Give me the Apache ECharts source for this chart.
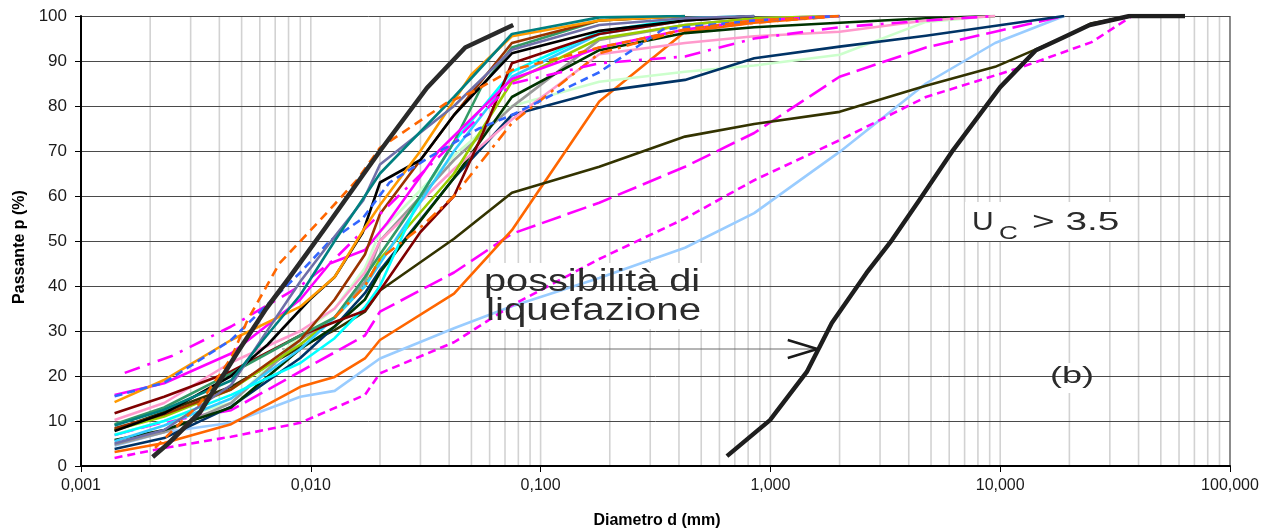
<!DOCTYPE html>
<html>
<head>
<meta charset="utf-8">
<script src="https://cdn.jsdelivr.net/npm/echarts@6/dist/echarts.min.js"></script>
<style>
  html, body { margin: 0; padding: 0; background: #fff; }
  #chart { width: 1277px; height: 531px; }
</style>
</head>
<body>
<div id="chart"></div>
<script>
// Grain-size distribution curves: [diameter (mm), passing (%)]
const fineLimit = [[0.00205,2],[0.0024,5],[0.0033,12],[0.0049,26],[0.0064,35],[0.0081,42],[0.0116,53],[0.020,70],[0.032,84],[0.047,93],[0.076,98]];
const ucLimit = [[0.647,2.2],[0.996,10.2],[1.44,20.9],[1.85,31.8],[2.62,42.9],[3.38,50.2],[4.45,59.1],[6.24,70.2],[10.0,84.2],[14.3,92.4],[18.9,95.3],[24.5,98],[36.6,100],[63.7,100]];

const tealCurve = [[0.0014,9],[0.0023,12.5],[0.0045,19],[0.0062,28],[0.009,38],[0.0127,50],[0.0172,60],[0.020,65],[0.042,82],[0.075,96],[0.18,99.7],[0.425,100]];
const slateCurve = [[0.0014,5],[0.0023,8],[0.0045,18],[0.0062,28.7],[0.009,41],[0.0127,51],[0.0169,59],[0.020,67],[0.042,80],[0.075,92.5],[0.18,98],[0.425,99.5],[0.85,100]];
const blueDashCurve = [[0.0014,15.5],[0.0023,18.5],[0.0045,28],[0.009,43],[0.0121,50],[0.0168,55],[0.022,63],[0.033,68.7],[0.054,75],[0.075,78],[0.118,83],[0.18,87.5],[0.34,97],[0.85,99],[2,100]];
const blackCurve = [[0.0014,7.8],[0.0023,11.7],[0.0045,20],[0.0065,27],[0.0099,37],[0.0127,42],[0.0168,51.8],[0.020,63],[0.030,68],[0.042,78],[0.075,91.7],[0.18,96.7],[0.425,99],[0.85,100]];
const orangeCurve = [[0.0014,14.2],[0.0023,19.1],[0.0045,28],[0.009,35.4],[0.0127,42],[0.0172,53],[0.020,58],[0.030,70],[0.050,87],[0.075,95.5],[0.18,99],[0.425,100]];
const brownCurve = [[0.0014,8.4],[0.0023,11.5],[0.0045,17],[0.009,28],[0.0127,37],[0.0172,47],[0.020,56],[0.030,68],[0.042,78],[0.075,94],[0.18,99],[0.425,100]];
const darkRedCurve = [[0.0014,11.7],[0.0023,15.4],[0.0045,21],[0.009,29],[0.0127,32],[0.0172,34.5],[0.020,39],[0.030,52],[0.042,60],[0.055,73],[0.075,89.5],[0.18,96],[0.425,99],[0.85,100]];
const pinkCurve = [[0.0014,10.2],[0.0023,14],[0.0045,23],[0.009,30],[0.0127,35],[0.0172,43],[0.020,50],[0.042,66],[0.075,77],[0.18,91.5],[0.425,94],[0.85,95.5],[2,96.5],[4.75,99],[9.5,100]];
const seaGreenCurve = [[0.0014,9.3],[0.0023,13],[0.0045,20.6],[0.009,29],[0.0127,33],[0.0172,42],[0.020,47],[0.030,60],[0.042,72],[0.055,84],[0.075,93],[0.18,99],[0.425,100]];
const magentaCurve = [[0.0014,15.8],[0.0023,18.4],[0.0045,25],[0.009,37],[0.0121,45],[0.0172,48],[0.0215,54],[0.036,70],[0.075,86],[0.18,93],[0.425,97],[0.85,99],[2,100]];
const cyanCurve = [[0.0014,6.9],[0.0023,10],[0.0045,15.8],[0.009,22.9],[0.0127,28.4],[0.0172,35.3],[0.020,40],[0.030,60],[0.042,72],[0.075,87.6],[0.18,96.5],[0.425,99.5],[0.85,100]];
const skyCurve = [[0.0014,5.5],[0.0023,9],[0.0045,15],[0.009,26],[0.0127,33],[0.0172,40],[0.020,45],[0.042,70],[0.075,86.5],[0.18,96],[0.425,99],[0.85,100]];
const limeCurve = [[0.0014,8],[0.0023,11],[0.0045,17],[0.009,27],[0.0127,33],[0.0172,40],[0.020,46],[0.042,65],[0.075,85.4],[0.18,95],[0.425,98],[0.85,99.5],[2,100]];
const darkGreenCurve = [[0.0014,5.8],[0.0023,8],[0.0045,13],[0.009,26],[0.0127,31],[0.0172,37],[0.020,43],[0.042,64],[0.075,82],[0.18,92.4],[0.425,96.2],[0.85,97.5],[2,98.5],[4.75,99.5],[9.5,100]];
const grayCurve = [[0.0014,4.7],[0.0023,7.5],[0.0045,14],[0.009,28],[0.0127,33],[0.0172,41],[0.020,50],[0.042,68],[0.075,79.8],[0.18,94.7],[0.425,98],[0.85,99.5],[2,100]];
const paleGreenCurve = [[0.0014,7],[0.0023,10],[0.0045,14],[0.009,29],[0.0127,35],[0.0172,44],[0.020,52],[0.042,69],[0.075,80],[0.18,85.4],[0.425,87.6],[0.85,89],[2,91.4],[4.75,98.7],[9.5,100]];
const navyCurve = [[0.0014,3.8],[0.0023,6.2],[0.0045,13.2],[0.009,24],[0.0127,31],[0.0172,38.4],[0.020,43.5],[0.042,64],[0.075,78],[0.18,83.2],[0.425,85.8],[0.85,90.6],[2,93.2],[4.75,95.6],[19,100]];
const orangeDashDotCurve = [[0.0127,33],[0.0172,40],[0.020,46],[0.030,53],[0.042,60],[0.075,76.2],[0.18,91.7],[0.425,97],[0.85,98.5],[2,100]];
const magentaDashDotCurve = [[0.00155,20.7],[0.0025,24.5],[0.0045,31],[0.009,40],[0.0127,46],[0.020,56],[0.042,72],[0.075,85],[0.18,89.5],[0.425,91],[0.85,95],[2,97.5],[4.75,99],[9.5,100]];
const orangeDashCurve = [[0.0021,4],[0.0026,8.7],[0.0033,14],[0.0045,24],[0.0053,32.4],[0.0073,45],[0.011,54.7],[0.0159,63.6],[0.020,70.7],[0.039,80.7],[0.05,83],[0.075,88],[0.18,93],[0.425,97],[0.85,99],[2,100]];
const oliveCurve = [[0.0014,8],[0.0023,12],[0.0045,17.6],[0.009,26.4],[0.0127,30.2],[0.0172,34.3],[0.020,39],[0.042,50.5],[0.075,60.7],[0.18,66.5],[0.425,73.2],[0.85,76],[2,78.7],[4.75,84.5],[9.5,88.7],[19,95.3],[25,98.4],[37.5,100]];
const orangeSolidCurve = [[0.0014,3.1],[0.0023,5.1],[0.0045,9.3],[0.009,17.6],[0.0127,19.8],[0.0172,23.9],[0.020,28],[0.042,38.3],[0.075,52.4],[0.18,81],[0.425,96.5],[0.85,98.5],[2,100]];
const lightBlueCurve = [[0.0014,4.5],[0.0023,7.5],[0.0045,9.6],[0.009,15.4],[0.0127,16.7],[0.020,23.9],[0.042,30.6],[0.075,35.5],[0.18,41.8],[0.425,48.5],[0.85,56.2],[2,69.8],[4.75,85],[9.5,94],[19,100]];
const magentaShortDashCurve = [[0.0014,1.8],[0.0023,4],[0.0045,6.5],[0.009,9.6],[0.0172,15.8],[0.020,20.6],[0.042,27.5],[0.075,35.7],[0.18,46],[0.425,55],[0.85,63.5],[2,72.4],[4.75,82],[12.5,88.7],[25,94.2],[37.5,100]];
const magentaLongDashCurve = [[0.0014,6.9],[0.0023,9.8],[0.0045,12.4],[0.009,21],[0.0172,29],[0.020,34.3],[0.042,43],[0.075,51.6],[0.18,58.5],[0.425,66.5],[0.85,74],[2,86.5],[4.75,93],[9.5,96.5],[19,100]];

// Pointer from the annotation to the Uc curve
const pointerShaft = [[0.0075,26],[1.6,26]];
const pointerHead = [[1.19,28],[1.6,26],[1.19,24]];

// Axis settings
const xMin = 0.001, xMax = 100;
const yTicks = [0, 10, 20, 30, 40, 50, 60, 70, 80, 90, 100];

// Vertical log grid positions (1..9 x each decade)
const gridDiameters = [];
for (let e = -3; e <= 1; e++) {
  for (let m = 1; m <= 9; m++) gridDiameters.push(+(m * Math.pow(10, e)).toPrecision(3));
}
gridDiameters.push(100);

// White panels behind the annotations (pixel rectangles: x, y, width, height)
const annotationPanels = [
  [480, 263, 228, 66],
  [965, 202, 165, 40],
  [1045, 363, 58, 30]
];

const FONT = 'Liberation Sans, Arial, sans-serif';

function curve(name, data, color, width, dash, extra) {
  return Object.assign({
    name: name, type: 'line', data: data, symbol: 'none', z: 5,
    lineStyle: { color: color, width: width, type: dash || 'solid', cap: 'butt', join: 'round' },
    silent: true
  }, extra || {});
}

const series = [
  {
    type: 'custom', z: 1, silent: true,
    data: gridDiameters.map(d => [d, 0]),
    encode: { x: 0, y: 1 },
    renderItem: function (params, api) {
      const d = api.value(0);
      const top = api.coord([d, 100]);
      const bot = api.coord([d, 0]);
      const border = d === xMax;
      return {
        type: 'line',
        shape: { x1: top[0], y1: top[1], x2: bot[0], y2: bot[1] },
        style: { stroke: border ? '#8c8c8c' : '#d2d2d2', lineWidth: border ? 2 : 1.6 }
      };
    }
  },
  {
    type: 'custom', z: 2, silent: true, coordinateSystem: 'none',
    data: annotationPanels,
    renderItem: function (params, api) {
      return {
        type: 'rect',
        shape: { x: api.value(0), y: api.value(1), width: api.value(2), height: api.value(3) },
        style: { fill: '#ffffff' }
      };
    }
  },
  curve('pointer', pointerShaft, '#6a6a6a', 1),
  curve('lightBlue', lightBlueCurve, '#99ccff', 2.6),
  curve('magentaShort', magentaShortDashCurve, '#ff00ff', 2.6, [8, 5]),
  curve('magentaLong', magentaLongDashCurve, '#ff00ff', 2.6, [20, 7]),
  curve('orangeSolid', orangeSolidCurve, '#ff6600', 2.6),
  curve('olive', oliveCurve, '#333300', 2.6),
  curve('paleGreen', paleGreenCurve, '#ccffcc', 2.6),
  curve('navy', navyCurve, '#003366', 2.6),
  curve('gray', grayCurve, '#999999', 2.6),
  curve('darkGreen', darkGreenCurve, '#003300', 2.6),
  curve('pink', pinkCurve, '#ff99cc', 2.6),
  curve('lime', limeCurve, '#99cc00', 2.6),
  curve('sky', skyCurve, '#33ccff', 2.6),
  curve('cyan', cyanCurve, '#00ffff', 2.6),
  curve('darkRed', darkRedCurve, '#800000', 2.6),
  curve('seaGreen', seaGreenCurve, '#339966', 2.6),
  curve('magenta', magentaCurve, '#ff00ff', 2.6),
  curve('brown', brownCurve, '#993300', 2.6),
  curve('orangeDashDot', orangeDashDotCurve, '#ff6600', 2.6, [12, 6, 3, 6]),
  curve('magentaDashDot', magentaDashDotCurve, '#ff00ff', 2.6, [16, 8, 3, 8]),
  curve('black', blackCurve, '#000000', 2.6),
  curve('orange', orangeCurve, '#ff9900', 2.6),
  curve('blueDash', blueDashCurve, '#3366ff', 2.6, [8, 5]),
  curve('slate', slateCurve, '#6f6fa8', 2.6),
  curve('teal', tealCurve, '#008080', 2.6),
  curve('orangeDash', orangeDashCurve, '#ff6600', 2.6, [9, 6]),
  curve('fineLimit', fineLimit, '#2a2a2a', 4.6, null, { z: 6 }),
  curve('ucLimit', ucLimit, '#1e1e1e', 4.4, null, { z: 6 }),
  curve('pointerHead', pointerHead, '#1a1a1a', 2.4, null, { z: 6 })
];

const textColor = '#2b2b2b';
const graphics = [
  { type: 'text', z: 20, x: 484, y: 282, scaleX: 1.28,
    style: { text: 'possibilità di', fontSize: 31, fontFamily: FONT, fill: textColor, textAlign: 'left', textVerticalAlign: 'middle' } },
  { type: 'text', z: 20, x: 486, y: 311, scaleX: 1.3,
    style: { text: 'liquefazione', fontSize: 31, fontFamily: FONT, fill: textColor, textAlign: 'left', textVerticalAlign: 'middle' } },
  { type: 'text', z: 20, x: 972, y: 223, scaleX: 1.2,
    style: { text: 'U', fontSize: 25, fontFamily: FONT, fill: textColor, textAlign: 'left', textVerticalAlign: 'middle' } },
  { type: 'text', z: 20, x: 999, y: 234, scaleX: 1.45,
    style: { text: 'C', fontSize: 18, fontFamily: FONT, fill: textColor, textAlign: 'left', textVerticalAlign: 'middle' } },
  { type: 'text', z: 20, x: 1032, y: 223, scaleX: 1.55,
    style: { text: '> 3.5', fontSize: 25, fontFamily: FONT, fill: textColor, textAlign: 'left', textVerticalAlign: 'middle' } },
  { type: 'text', z: 20, x: 1050, y: 376, scaleX: 1.5,
    style: { text: '(b)', fontSize: 24, fontFamily: FONT, fill: textColor, textAlign: 'left', textVerticalAlign: 'middle' } },
  { type: 'text', z: 20, x: 20, y: 247, rotation: Math.PI / 2,
    style: { text: 'Passante p (%)', fontSize: 16, fontWeight: 'bold', fontFamily: FONT, fill: '#000', textAlign: 'center', textVerticalAlign: 'middle' } },
  { type: 'text', z: 20, x: 657, y: 521,
    style: { text: 'Diametro d (mm)', fontSize: 16, fontWeight: 'bold', fontFamily: FONT, fill: '#000', textAlign: 'center', textVerticalAlign: 'middle' } }
];

const chart = echarts.init(document.getElementById('chart'), null, { renderer: 'canvas' });
chart.setOption({
  animation: false,
  backgroundColor: '#ffffff',
  grid: { left: 81, right: 47, top: 16, bottom: 65 },
  xAxis: {
    type: 'log', logBase: 10, min: xMin, max: xMax, z: 3,
    axisLine: { show: true, onZero: false, lineStyle: { color: '#000', width: 2 } },
    axisTick: { show: true, length: 6, lineStyle: { color: '#000', width: 1 } },
    minorTick: { show: false },
    splitLine: { show: false },
    axisLabel: {
      fontSize: 16, fontFamily: FONT, color: '#1a1a1a', margin: 12,
      formatter: v => Number(v).toFixed(3).replace('.', ',')
    }
  },
  yAxis: {
    type: 'value', min: yTicks[0], max: yTicks[yTicks.length - 1], interval: 10, z: 3,
    axisLine: { show: true, lineStyle: { color: '#000', width: 2 } },
    axisTick: { show: true, length: 6, lineStyle: { color: '#000', width: 1 } },
    splitLine: { show: true, lineStyle: { color: '#4a4a4a', width: 1 } },
    axisLabel: { fontSize: 17, fontFamily: FONT, color: '#1a1a1a', margin: 14 }
  },
  graphic: { elements: graphics },
  series: series
});
</script>
</body>
</html>
